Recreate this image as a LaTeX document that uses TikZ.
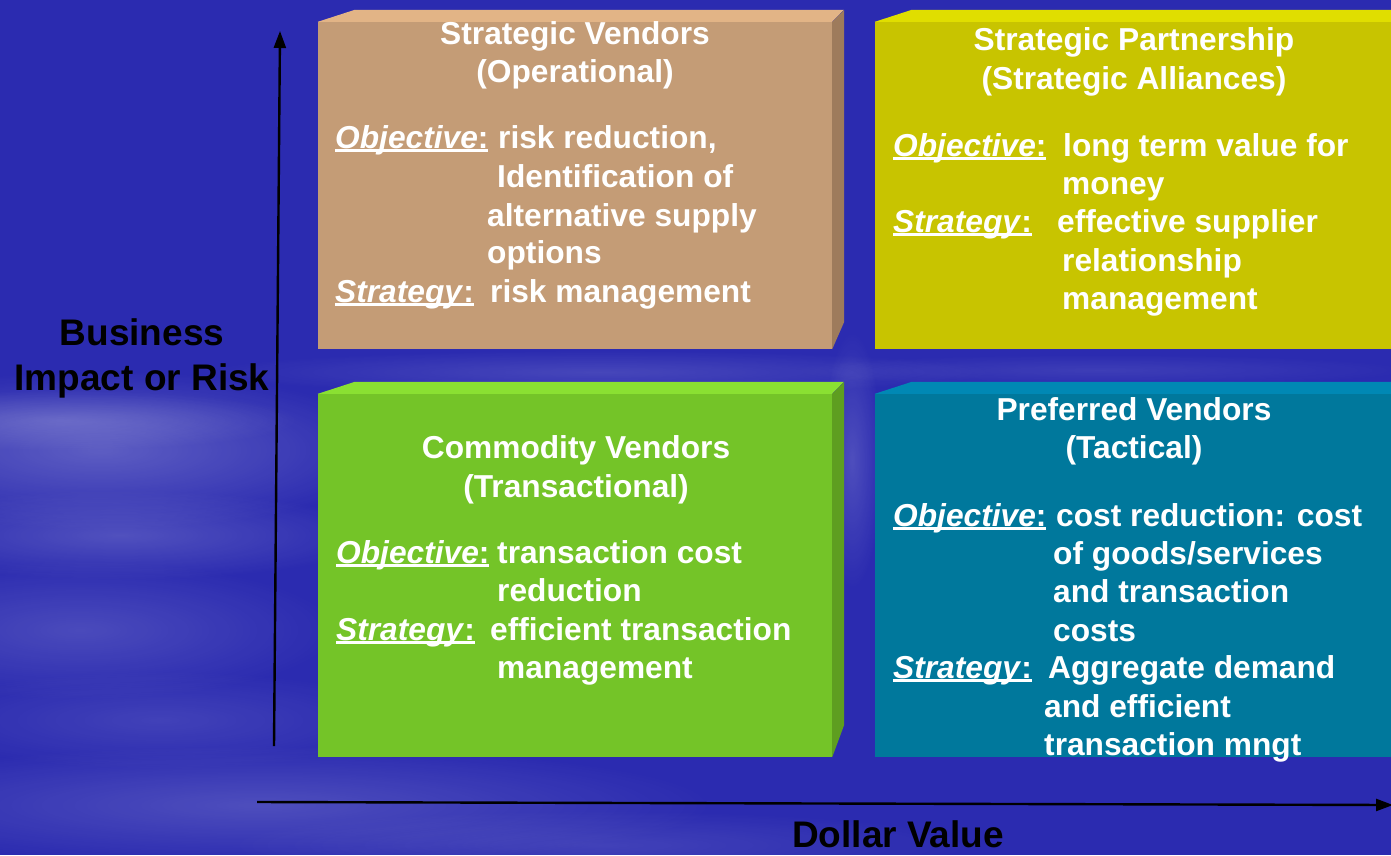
\documentclass[tikz,border=0pt]{standalone}
\usepackage{fontspec}
\setmainfont{Liberation Sans}
\usetikzlibrary{arrows.meta,fadings}

% underlined heading word followed by its colon
\newcommand\ulbl[1]{\setbox0\hbox{#1}\rlap{\rule[-4bp]{\wd0}{2.6bp}}\box0}
\newcommand\objlbl{\ulbl{\textit{Objective}:}}
\newcommand\strlbl{\ulbl{\textit{Strategy}:}}

\definecolor{bgblue}{HTML}{2B2BB0}
\definecolor{brownF}{HTML}{C49C76}
\definecolor{brownT}{HTML}{E2B486}
\definecolor{brownS}{HTML}{9E7B5C}
\definecolor{yelF}{HTML}{C8C400}
\definecolor{yelT}{HTML}{E0DE00}
\definecolor{grnF}{HTML}{74C428}
\definecolor{grnT}{HTML}{8AE032}
\definecolor{grnS}{HTML}{5E9E20}
\definecolor{tealF}{HTML}{00789C}
\definecolor{tealT}{HTML}{0088B4}

\tikzfading[name=softblob, inner color=transparent!40, outer color=transparent!100]

\tikzset{
  txt/.style={text=white, font=\bfseries\fontsize{31.7bp}{38bp}\selectfont,
              inner sep=0pt, anchor=base west},
  ttl/.style={txt, anchor=base},
  axlbl/.style={text=black, font=\bfseries\fontsize{37bp}{45bp}\selectfont,
                inner sep=0pt, anchor=base},
  face/.style={rectangle, draw=none, inner sep=0pt},
  cloud/.style={fill=white, path fading=softblob},
  axis/.style={line width=2.4bp, black, -{Triangle[length=17bp,width=12bp]}}
}

\begin{document}
\begin{tikzpicture}[x=1bp,y=-1bp]
\useasboundingbox (0,0) rectangle (1391,855);
\clip (0,0) rectangle (1391,855);

% sky background with soft cloud streaks
\fill[bgblue] (0,0) rectangle (1391,855);
\fill[cloud, opacity=0.40] (100,450) ellipse [x radius=300, y radius=80];
\fill[cloud, opacity=0.30] (60,420) ellipse [x radius=240, y radius=30];
\fill[cloud, opacity=0.30] (120,535) ellipse [x radius=260, y radius=45];
\fill[cloud, opacity=0.25] (80,630) ellipse [x radius=260, y radius=70];
\fill[cloud, opacity=0.18] (160,720) ellipse [x radius=260, y radius=50];
\fill[cloud, opacity=0.28] (260,805) ellipse [x radius=460, y radius=60];
\fill[cloud, opacity=0.18] (600,845) ellipse [x radius=380, y radius=35];
\fill[cloud, opacity=0.22] (600,372) ellipse [x radius=400, y radius=22];
\fill[cloud, opacity=0.28] (852,460) ellipse [x radius=30, y radius=130];
\fill[cloud, opacity=0.15] (1100,370) ellipse [x radius=320, y radius=16];

% box fronts
\node[face, fill=brownF, minimum width=514bp, minimum height=327bp] (sv) at (575,185.5) {};
\node[face, fill=yelF,   minimum width=525bp, minimum height=327bp] (sp) at (1137.5,185.5) {};
\node[face, fill=grnF,   minimum width=514bp, minimum height=363bp] (cv) at (575,575.5) {};
\node[face, fill=tealF,  minimum width=525bp, minimum height=363bp] (pv) at (1137.5,575.5) {};

% bevelled tops and sides
\fill[brownT] (sv.north west) -- ++(37,-12) -- ++(489,0) -- (sv.north east) -- cycle;
\fill[brownS] (sv.north east) -- ++(12,-12) -- ++(0,312) -- (sv.south east) -- cycle;
\fill[yelT]   (sp.north west) -- ++(37,-12) -- ++(500,0) -- (sp.north east) -- cycle;
\fill[grnT]   (cv.north west) -- ++(37,-12) -- ++(489,0) -- (cv.north east) -- cycle;
\fill[grnS]   (cv.north east) -- ++(12,-12) -- ++(0,343) -- (cv.south east) -- cycle;
\fill[tealT]  (pv.north west) -- ++(37,-12) -- ++(500,0) -- (pv.north east) -- cycle;

% axes
\coordinate (yfoot) at (274,746);
\coordinate (ytip)  at (280,31);
\coordinate (xfoot) at (257,802);
\coordinate (xtip)  at (1393,805);
\draw[axis] (yfoot) -- (ytip);
\draw[axis] (xfoot) -- (xtip);

\node[axlbl] (ylab1) at (142,345) {Business};
\node[axlbl] (ylab2) at (142,390) {Impact or Risk};
\node[axlbl] (xlab)  at (898,847) {Dollar Value};

% Strategic Vendors
\node[ttl] (sv1) at (575,44) {Strategic Vendors};
\node[ttl] (sv2) at (575,82) {(Operational)};
\node[txt] (svo) at (335,148) {\objlbl};
\node[txt] (sv3) at (498,148) {risk reduction,};
\node[txt] (sv4) at (497,187) {Identification of};
\node[txt] (sv5) at (487,226) {alternative supply};
\node[txt] (sv6) at (487,263) {options};
\node[txt] (svs) at (335,302) {\strlbl};
\node[txt] (sv7) at (490,302) {risk management};

% Strategic Partnership
\node[ttl] (sp1) at (1134,50) {Strategic Partnership};
\node[ttl] (sp2) at (1134,89) {(Strategic Alliances)};
\node[txt] (spo) at (893,156) {\objlbl};
\node[txt] (sp3) at (1063,156) {long term value for};
\node[txt] (sp4) at (1062,194) {money};
\node[txt] (sps) at (893,232) {\strlbl};
\node[txt] (sp5) at (1057,232) {effective supplier};
\node[txt] (sp6) at (1062,271) {relationship};
\node[txt] (sp7) at (1062,309) {management};

% Commodity Vendors
\node[ttl] (cv1) at (576,458) {Commodity Vendors};
\node[ttl] (cv2) at (576,497) {(Transactional)};
\node[txt] (cvo) at (336,563) {\objlbl};
\node[txt] (cv3) at (497,563) {transaction cost};
\node[txt] (cv4) at (497,601) {reduction};
\node[txt] (cvs) at (336,640) {\strlbl};
\node[txt] (cv5) at (490,640) {efficient transaction};
\node[txt] (cv6) at (497,678) {management};

% Preferred Vendors
\node[ttl] (pv1) at (1134,420) {Preferred Vendors};
\node[ttl] (pv2) at (1134,458) {(Tactical)};
\node[txt] (pvo) at (893,526) {\objlbl};
\node[txt] (pv3) at (1056,526) {cost reduction: cost};
\node[txt] (pv4) at (1053,564) {of goods/services};
\node[txt] (pv5) at (1053,602) {and transaction};
\node[txt] (pv6) at (1053,641) {costs};
\node[txt] (pvs) at (893,678) {\strlbl};
\node[txt] (pv7) at (1048,678) {Aggregate demand};
\node[txt] (pv8) at (1044,717) {and efficient};
\node[txt] (pv9) at (1044,755) {transaction mngt};
\end{tikzpicture}
\end{document}
